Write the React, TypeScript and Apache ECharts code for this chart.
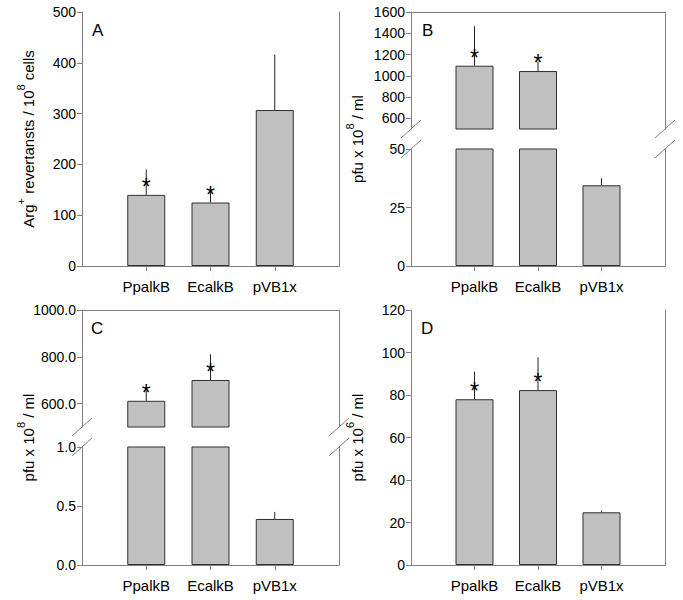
import React, { useEffect, useRef } from 'react';
import * as echarts from 'echarts';

// ---------- data ----------
const categories = ['PpalkB', 'EcalkB', 'pVB1x'];
const significant = [true, true, false];

const meanA = [140, 125, 307];
const errA = [50, 25, 109];
const ticksA = [0, 100, 200, 300, 400, 500];

const meanB = [1095, 1045, 34.5];
const errB = [372, 90, 3];
const ticksBLow = [0, 25, 50];
const ticksBHigh = [600, 800, 1000, 1200, 1400, 1600];

const meanC = [612, 701, 0.39];
const errC = [60, 110, 0.06];
const ticksCLow = [0, 0.5, 1.0];
const ticksCHigh = [600, 800, 1000];

const meanD = [78, 82.3, 24.8];
const errD = [13, 15.5, 0.8];
const ticksD = [0, 20, 40, 60, 80, 100, 120];

const panelLetters = ['A', 'B', 'C', 'D'];
const nameA = '{n|Arg}{s|+}{n| revertansts / 10}{s|8}{n| cells}';
const nameB = '{n|pfu x 10}{s|8}{n| / ml}';
const nameC = '{n|pfu x 10}{s|8}{n| / ml}';
const nameD = '{n|pfu x 10}{s|6}{n| / ml}';

// ---------- style / layout ----------
const FONT = "'Liberation Sans', Arial, Helvetica, sans-serif";
const AXIS_GRAY = '#808080';
const BAR_FILL = '#c0c0c0';
const BAR_EDGE = '#303030';
const catAxis = ['', ...categories, ''];

const COL_L = { left: 82, width: 257 };
const COL_R = { left: 411, width: 254 };
const ROW_T = { top: 12, height: 254 };
const ROW_B = { top: 310, height: 255 };
const UPPER_H = 117;
const GAP = 20;

const nameRich = {
  n: { fontSize: 15, fontFamily: FONT, color: '#000', lineHeight: 21, verticalAlign: 'bottom' },
  s: { fontSize: 11, fontFamily: FONT, color: '#000', verticalAlign: 'top' },
};

function buildOption() {
  const grids: any[] = [];
  const xAxes: any[] = [];
  const yAxes: any[] = [];
  const series: any[] = [];
  const graphics: any[] = [];

  function addSegment(
    left: number, width: number, top: number, height: number,
    min: number, max: number, ticks: number[], decimals: number,
    bottomAxis: boolean, topAxis: boolean,
    means: number[], errs: number[], name?: string
  ) {
    const gi = grids.length;
    grids.push({ left, top, width, height, containLabel: false });
    const xb = xAxes.length;
    xAxes.push({
      type: 'category', gridIndex: gi, position: 'bottom', data: catAxis, boundaryGap: false,
      axisLine: { show: bottomAxis, lineStyle: { color: AXIS_GRAY, width: 1 } },
      axisTick: { show: bottomAxis, length: 5, interval: (i: number) => i > 0 && i < catAxis.length - 1, lineStyle: { color: AXIS_GRAY } },
      axisLabel: { show: bottomAxis, interval: 0, color: '#000', fontSize: 15, fontFamily: FONT, margin: 13 },
      splitLine: { show: false },
    });
    xAxes.push({
      type: 'category', gridIndex: gi, position: 'top', data: catAxis, boundaryGap: false,
      axisLine: { show: topAxis, lineStyle: { color: AXIS_GRAY, width: 1 } },
      axisTick: { show: false }, axisLabel: { show: false }, splitLine: { show: false },
    });
    const yl = yAxes.length;
    yAxes.push({
      type: 'value', gridIndex: gi, position: 'left', min, max,
      axisLine: { show: true, lineStyle: { color: AXIS_GRAY, width: 1 } },
      axisTick: { show: true, length: 5, customValues: ticks, lineStyle: { color: AXIS_GRAY } },
      axisLabel: {
        customValues: ticks, color: '#000', fontSize: 14, fontFamily: FONT, margin: 6,
        formatter: (v: number) => v.toFixed(decimals),
      },
      splitLine: { show: false },
      ...(name ? { name, nameLocation: 'middle', nameRotate: 90, nameGap: 46, nameTextStyle: { rich: nameRich } } : {}),
    });
    yAxes.push({
      type: 'value', gridIndex: gi, position: 'right', min, max,
      axisLine: { show: true, lineStyle: { color: AXIS_GRAY, width: 1 } },
      axisTick: { show: false }, axisLabel: { show: false }, splitLine: { show: false },
    });
    series.push({
      type: 'bar', xAxisIndex: xb, yAxisIndex: yl, barWidth: 38, clip: true, silent: true,
      data: ['-', ...means.map((v) => (v > min ? v : '-')), '-'],
      itemStyle: { color: BAR_FILL, borderColor: BAR_EDGE, borderWidth: 1 },
    });
    const errData = means
      .map((m, i) => [i + 1, m, m + errs[i], significant[i] ? 1 : 0])
      .filter((d) => d[1] >= min && d[1] <= max);
    series.push({
      type: 'custom', xAxisIndex: xb, yAxisIndex: yl, silent: true,
      data: errData,
      renderItem: (params: any, api: any) => {
        const x = api.value(0);
        const m = api.value(1);
        const t = Math.min(api.value(2), max);
        const p0 = api.coord([x, m]);
        const p1 = api.coord([x, t]);
        const children: any[] = [
          { type: 'line', shape: { x1: p0[0], y1: p0[1], x2: p1[0], y2: p1[1] }, style: { stroke: '#222', lineWidth: 1 } },
        ];
        if (api.value(3) === 1) {
          children.push({
            type: 'text',
            style: { text: '*', x: p0[0], y: p0[1] - 8, fill: '#000', fontSize: 23, fontFamily: FONT, align: 'center', verticalAlign: 'middle' },
          });
        }
        return { type: 'group', children };
      },
    });
    return gi;
  }

  function addNameHolder(left: number, width: number, top: number, height: number, name: string) {
    const gi = grids.length;
    grids.push({ left, top, width, height, containLabel: false });
    xAxes.push({ type: 'value', gridIndex: gi, show: false, min: 0, max: 1 });
    yAxes.push({
      type: 'value', gridIndex: gi, min: 0, max: 1,
      axisLine: { show: false }, axisTick: { show: false }, axisLabel: { show: false }, splitLine: { show: false },
      name, nameLocation: 'middle', nameRotate: 90, nameGap: 46, nameTextStyle: { rich: nameRich },
    });
  }

  function addBreakMarks(left: number, width: number, yUpper: number, yLower: number) {
    [left, left + width].forEach((x) => {
      [yUpper, yLower].forEach((y) => {
        graphics.push({
          type: 'line', silent: true,
          shape: { x1: x - 10, y1: y + 9, x2: x + 10, y2: y - 9 },
          style: { stroke: AXIS_GRAY, lineWidth: 1 },
        });
      });
    });
  }

  // Panel A
  addSegment(COL_L.left, COL_L.width, ROW_T.top, ROW_T.height, 0, 500, ticksA, 0, true, true, meanA, errA, nameA);

  // Panel B (broken axis)
  addSegment(COL_R.left, COL_R.width, ROW_T.top, UPPER_H, 500, 1600, ticksBHigh, 0, false, true, meanB, errB);
  addSegment(COL_R.left, COL_R.width, ROW_T.top + UPPER_H + GAP, ROW_T.height - UPPER_H - GAP, 0, 50, ticksBLow, 0, true, false, meanB, errB);
  addNameHolder(COL_R.left, COL_R.width, ROW_T.top, ROW_T.height, nameB);
  addBreakMarks(COL_R.left, COL_R.width, ROW_T.top + UPPER_H, ROW_T.top + UPPER_H + GAP);

  // Panel C (broken axis)
  addSegment(COL_L.left, COL_L.width, ROW_B.top, UPPER_H, 500, 1000, ticksCHigh, 1, false, true, meanC, errC);
  addSegment(COL_L.left, COL_L.width, ROW_B.top + UPPER_H + GAP, ROW_B.height - UPPER_H - GAP, 0, 1, ticksCLow, 1, true, false, meanC, errC);
  addNameHolder(COL_L.left, COL_L.width, ROW_B.top, ROW_B.height, nameC);
  addBreakMarks(COL_L.left, COL_L.width, ROW_B.top + UPPER_H, ROW_B.top + UPPER_H + GAP);

  // Panel D
  addSegment(COL_R.left, COL_R.width, ROW_B.top, ROW_B.height, 0, 120, ticksD, 0, true, true, meanD, errD, nameD);

  const letterPos = [
    [COL_L.left + 10, ROW_T.top + 10],
    [COL_R.left + 11, ROW_T.top + 10],
    [COL_L.left + 9, ROW_B.top + 10],
    [COL_R.left + 10, ROW_B.top + 10],
  ];
  const titles = panelLetters.map((t, i) => ({
    text: t, left: letterPos[i][0], top: letterPos[i][1], padding: 0,
    textStyle: { fontSize: 17, fontWeight: 'normal', color: '#000', fontFamily: FONT },
  }));

  return {
    animation: false,
    backgroundColor: '#fff',
    textStyle: { fontFamily: FONT },
    title: titles,
    grid: grids,
    xAxis: xAxes,
    yAxis: yAxes,
    series,
    graphic: graphics,
  };
}

export default function App() {
  const ref = useRef<HTMLDivElement>(null);
  useEffect(() => {
    if (!ref.current) return;
    const chart = echarts.init(ref.current, undefined, { renderer: 'svg' });
    chart.setOption(buildOption() as any);
    return () => chart.dispose();
  }, []);
  return <div ref={ref} style={{ position: 'absolute', left: 0, top: 0, width: 683, height: 600 }} />;
}
